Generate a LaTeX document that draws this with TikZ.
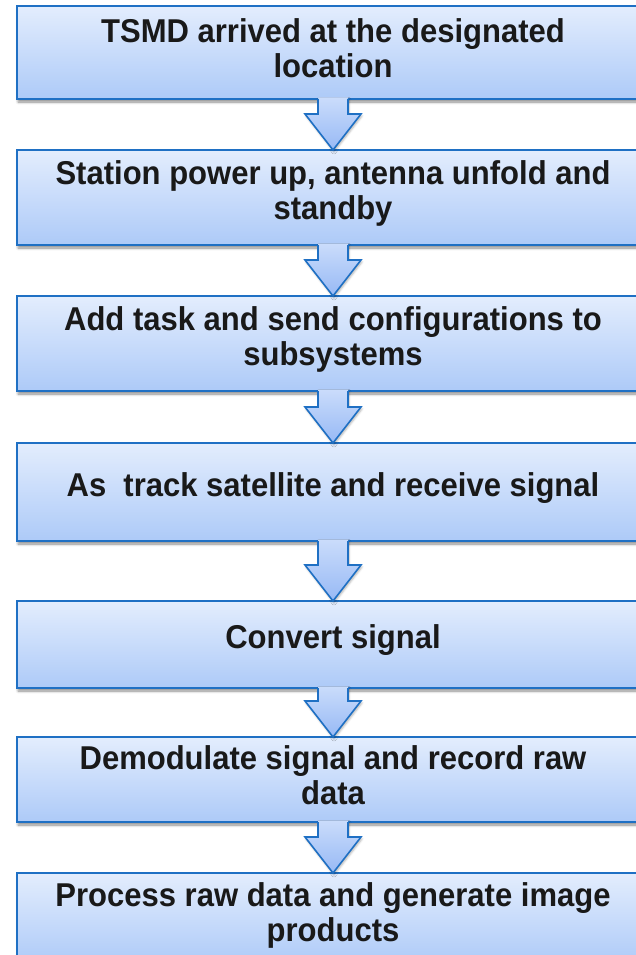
\documentclass[tikz,border=0pt]{standalone}
\usepackage{fontspec}
\setmainfont{Liberation Sans}[FakeStretch=0.94]
\usetikzlibrary{calc,shadows.blur}
\definecolor{rand}{HTML}{1F70C4}
\definecolor{oben}{HTML}{E3EDFD}
\definecolor{unten}{HTML}{ADCAF8}
\definecolor{pfeiloben}{HTML}{CADCFB}
\definecolor{pfeilunten}{HTML}{97B9F5}
\newcommand\schrift{\fontsize{33}{35}\selectfont\bfseries}
% Kasten: Name, Oberkante, Hoehe, Text (Text etwas ueber der Mitte)
\newcommand\schritt[4]{\node[kasten,minimum height=#3] (#1) at (333,#2) {};
  \node[beschrift] (#1t) at ($(#1.center)+(0,-4)$) {#4};}
% Blockpfeil von Unterkante #1 bis Oberkante #2
\newcommand\pfeil[2]{%
  \shade[pfeilfl] ($(#1.south)+(-15,-1.5)$) -- ($(#2.north)+(-15,-36)$) -- ($(#2.north)+(-28,-36)$)
    -- (#2.north) -- ($(#2.north)+(28,-36)$) -- ($(#2.north)+(15,-36)$) -- ($(#1.south)+(15,-1.5)$) -- cycle;
  \draw[pfeilrd] ($(#1.south)+(-15,0)$) -- ($(#2.north)+(-15,-36)$) -- ($(#2.north)+(-28,-36)$)
    -- (#2.north) -- ($(#2.north)+(28,-36)$) -- ($(#2.north)+(15,-36)$) -- ($(#1.south)+(15,0)$);}

\begin{document}
\begin{tikzpicture}[x=1pt,y=-1pt]
\useasboundingbox (0,0) rectangle (636,955);
\tikzset{kasten/.style={anchor=north,draw=rand,line width=1.6pt,outer sep=0,
    minimum width=632,top color=oben,bottom color=unten,inner sep=0,
    blur shadow={shadow xshift=1pt,shadow yshift=-3pt,shadow blur radius=2.5pt,
    shadow opacity=45}},
  beschrift/.style={align=center,font=\schrift,inner sep=0,text=black!90},
  pfeilfl/.style={top color=pfeiloben,bottom color=pfeilunten,
    blur shadow={shadow xshift=1pt,shadow yshift=-2pt,shadow blur radius=2pt,shadow opacity=30}},
  pfeilrd/.style={rand,line width=1.6pt,line join=miter}}

% ---- Ablauf ------------------------------------------------------------------
\schritt{s1}{6}{93}{TSMD arrived at the designated\\location}
\schritt{s2}{150}{95}{Station power up, antenna unfold and\\standby}
\schritt{s3}{296}{95}{Add task and send configurations to\\subsystems}
\schritt{s4}{443}{98}{As~ track satellite and receive signal}
\schritt{s5}{601}{87}{Convert signal}
\schritt{s6}{737}{85}{Demodulate signal and record raw\\data}
\schritt{s7}{873}{92}{Process raw data and generate image\\products}

% ---- Pfeile zwischen den Schritten ---------------------------------------------
\foreach \a/\b in {s1/s2,s2/s3,s3/s4,s4/s5,s5/s6,s6/s7} {\pfeil{\a}{\b}}
\end{tikzpicture}
\end{document}
